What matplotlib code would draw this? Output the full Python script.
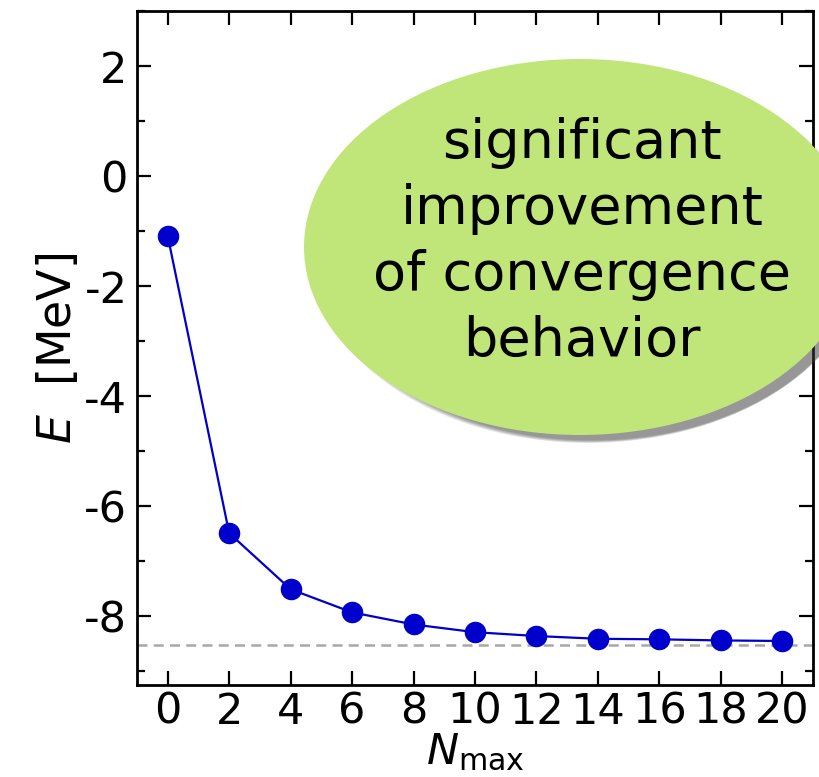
"""
Ground-state energy vs N_max with a note bubble.
"""

import numpy as np
import matplotlib.pyplot as plt
from matplotlib.patches import Ellipse
from matplotlib.ticker import MultipleLocator

plt.rcParams['axes.unicode_minus'] = False

# data
nmax = [0, 2, 4, 6, 8, 10, 12, 14, 16, 18, 20]
energy = [-1.09, -6.49, -7.51, -7.93, -8.15, -8.29, -8.36, -8.41, -8.42, -8.44, -8.45]
e_exact = -8.53
note = "significant\nimprovement\nof convergence\nbehavior"

fig = plt.figure(figsize=(8.2, 7.77), dpi=100)
ax = fig.add_axes([137/820, 92/777, 676/820, 674/777])

ax.axhline(e_exact, color='#a8a8a8', ls='--', lw=1.8, dashes=(4, 2.5), zorder=1)
ax.plot(nmax, energy, color='#0000cc', lw=1.6, marker='o', ms=14.5, zorder=3)

ax.set_xlim(-1, 21)
ax.set_ylim(-9.25, 3)
ax.set_xticks(nmax)
ax.yaxis.set_major_locator(MultipleLocator(2))
ax.yaxis.set_minor_locator(MultipleLocator(1))
ax.tick_params(which='both', direction='in', top=True, right=True, width=1.6, labelsize=31)
ax.tick_params(which='major', length=10)
ax.tick_params(which='minor', length=6)
ax.tick_params(axis='x', pad=4)
ax.tick_params(axis='y', pad=7)
for s in ax.spines.values():
    s.set_linewidth(2)

ax.set_xlabel(r'$N_\mathrm{max}$', fontsize=31, labelpad=-1)
ax.set_ylabel(r'$E$  [MeV]', fontsize=33, labelpad=2)

# overlay in pixel coordinates for the bubble
ov = fig.add_axes([0, 0, 1, 1], facecolor='none')
ov.set_xlim(0, 820)
ov.set_ylim(777, 0)
ov.axis('off')

#soft shadow
for i in range(8):
    ov.add_patch(Ellipse((588 + i*0.6, 254 + i*0.6), 552 - i*2, 378 - i*2,
                         facecolor='#404040', edgecolor='none', alpha=0.09))
ov.add_patch(Ellipse((580, 247), 552, 376, facecolor='#c0e67a', edgecolor='none'))
ov.text(582, 242, note, ha='center', va='center', fontsize=39, linespacing=1.34)

plt.savefig('out.png', dpi=100)
